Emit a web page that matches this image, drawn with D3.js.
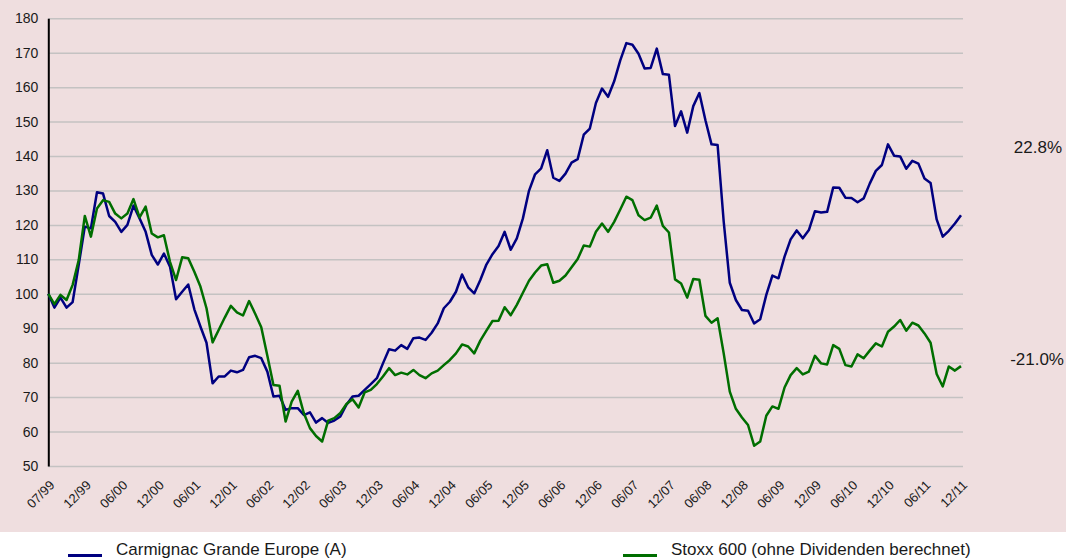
<!DOCTYPE html>
<html>
<head>
  <meta charset="utf-8">
  <script src="https://d3js.org/d3.v7.min.js"></script>
<style>
body { margin: 0; background: #fff; }
text { font-family: "Liberation Sans", Arial, sans-serif; fill: #1a1a1a; }
.grid line { stroke: #c4c2c2; stroke-width: 1.5px; }
</style>
</head>
<body>
  <div id="viz"></div>
<script>

// month labels, one every 6 points
var tickLabels = ["07/99","12/99","06/00","12/00","06/01","12/01","06/02","12/02","06/03",
  "12/03","06/04","12/04","06/05","12/05","06/06","12/06","06/07","12/07","06/08",
  "12/08","06/09","12/09","06/10","12/10","06/11","12/11"];

var yTicks = [50, 60, 70, 80, 90, 100, 110, 120, 130, 140, 150, 160, 170, 180];

// Carmignac Grande Europe (A), indexed to 100
var fund = [100, 96.0, 98.9, 96.0, 97.6, 108.4, 119.5, 119.0, 129.5, 129.1,
  122.6, 120.9, 118.0, 120.0, 125.6, 121.9, 118.0, 111.3, 108.5, 111.7,
  107.9, 98.4, 100.6, 102.7, 95.5, 90.5, 85.8, 74.0, 76.0, 76.0,
  77.7, 77.2, 77.9, 81.6, 82.0, 81.3, 77.4, 70.2, 70.4, 66.3,
  66.8, 66.8, 64.8, 65.6, 62.6, 63.9, 62.5, 63.2, 64.4, 67.8,
  70.2, 70.4, 72.1, 73.8, 75.5, 79.8, 83.9, 83.5, 85.1, 84.0,
  87.1, 87.3, 86.6, 88.7, 91.4, 95.8, 97.7, 100.6, 105.6, 101.9,
  100.1, 104.0, 108.5, 111.5, 113.9, 118.0, 112.8, 116.1, 121.9, 129.9,
  134.7, 136.4, 141.7, 133.7, 132.8, 134.9, 138.1, 139.1, 146.2, 148.0,
  155.4, 159.6, 157.2, 161.7, 167.8, 172.8, 172.3, 169.7, 165.4, 165.6,
  171.2, 163.8, 163.6, 148.7, 153.0, 146.8, 154.5, 158.3, 150.4, 143.4,
  143.2, 121.0, 103.2, 98.2, 95.3, 95.1, 91.4, 92.6, 99.7, 105.3,
  104.5, 110.8, 115.8, 118.4, 116.1, 118.5, 124.0, 123.6, 123.8, 130.9,
  130.8, 127.9, 127.8, 126.6, 127.7, 132.0, 135.7, 137.4, 143.4, 140.1,
  139.9, 136.3, 138.6, 137.8, 133.5, 132.2, 121.6, 116.6, 118.3, 120.4,
  122.8];

// Stoxx 600 (ohne Dividenden), indexed to 100
var stoxx = [100, 97.0, 99.7, 98.2, 102.6, 109.8, 122.6, 116.6, 124.8, 127.2,
  126.7, 123.3, 121.9, 123.3, 127.5, 122.2, 125.3, 117.5, 116.4, 117.0,
  109.3, 104.0, 110.6, 110.3, 106.4, 102.1, 95.8, 85.9, 89.5, 93.1,
  96.5, 94.6, 93.7, 97.9, 94.2, 90.3, 82.0, 73.5, 73.3, 62.9,
  68.7, 71.8, 65.3, 61.0, 58.7, 57.1, 63.2, 63.9, 65.4, 68.0,
  69.4, 67.0, 71.4, 72.1, 73.8, 76.0, 78.4, 76.4, 77.1, 76.6,
  77.9, 76.4, 75.5, 76.9, 77.7, 79.3, 80.8, 82.7, 85.3, 84.7,
  82.7, 86.4, 89.3, 92.1, 92.2, 96.1, 93.8, 96.8, 100.3, 103.8,
  106.2, 108.2, 108.6, 103.2, 103.8, 105.3, 107.7, 110.1, 114.0, 113.7,
  118.0, 120.4, 118.0, 120.9, 124.5, 128.2, 127.2, 122.8, 121.4, 122.1,
  125.6, 119.7, 117.8, 104.2, 103.0, 98.9, 104.3, 104.1, 93.6, 91.6,
  92.9, 82.7, 71.6, 66.6, 64.1, 61.9, 55.9, 57.1, 64.6, 67.3,
  66.6, 72.8, 76.4, 78.4, 76.6, 77.4, 82.0, 79.8, 79.5, 85.1,
  84.0, 79.3, 78.9, 82.4, 81.3, 83.5, 85.6, 84.7, 89.0, 90.5,
  92.4, 89.3, 91.6, 90.8, 88.5, 85.8, 76.7, 73.1, 78.9, 77.7,
  79.0];

var seriesNames = ["Carmignac Grande Europe (A)", "Stoxx 600 (ohne Dividenden berechnet)"];
var endLabels = ["22.8%", "-21.0%"];

var width = 1066, height = 559;
// plot box (named so they don't clash with window.top etc.)
var plotL = 48.3, plotR = 961, plotT = 18.3, plotB = 466;

var svg = d3.select("#viz")
    .append("svg")
    .attr("width", width)
    .attr("height", height);

// pink panel behind the plot
svg.append("rect")
    .attr("x", 0).attr("y", 0)
    .attr("width", width).attr("height", 532)
    .style("fill", "#efdedf");

var x = d3.scaleLinear().domain([0, fund.length - 1]).range([plotL, plotR]);
var y = d3.scaleLinear().domain([50, 180]).range([plotB, plotT]);

// horizontal grid
svg.append("g")
    .attr("class", "grid")
    .attr("transform", "translate(" + plotL + ",0)")
    .call(d3.axisRight(y).tickValues(yTicks).tickSize(963 - plotL).tickFormat(""))
    .call(function(g) { g.select(".domain").remove(); });

// y axis labels + black line
var yAxis = svg.append("g")
    .attr("transform", "translate(" + plotL + ",0)")
    .call(d3.axisLeft(y).tickValues(yTicks).tickSize(0).tickPadding(10));
yAxis.select(".domain").attr("stroke", "#000").attr("stroke-width", 2);
yAxis.selectAll("text").style("font-size", "14px").attr("font-family", null).attr("fill", null);

// x labels, rotated
var xTickIdx = d3.range(0, fund.length, 6);
svg.append("g").selectAll("text")
    .data(xTickIdx)
  .enter().append("text")
    .attr("transform", function(d) { return "translate(" + (x(d) + 7) + ",486) rotate(-45)"; })
    .attr("text-anchor", "end")
    .style("font-size", "13px")
    .text(function(d, i) { return tickLabels[i]; });

// the two lines
var line = d3.line()
    .x(function(d, i) { return x(i); })
    .y(function(d) { return y(d); });

var colors = ["#000080", "#006e00"];
[fund, stoxx].forEach(function(s, k) {
  svg.append("path")
      .datum(s)
      .attr("d", line)
      .style("fill", "none")
      .style("stroke", colors[k])
      .style("stroke-width", 2.5)
      .style("stroke-linejoin", "round");
});

// performance labels at the right
svg.append("text").attr("x", 1062).attr("y", 153).attr("text-anchor", "end")
    .style("font-size", "17px").text(endLabels[0]);
svg.append("text").attr("x", 1064).attr("y", 365).attr("text-anchor", "end")
    .style("font-size", "17px").text(endLabels[1]);

// legend
var legX = [68, 623];
seriesNames.forEach(function(n, k) {
  svg.append("line")
      .attr("x1", legX[k]).attr("x2", legX[k] + 34)
      .attr("y1", 555.5).attr("y2", 555.5)
      .style("stroke", colors[k]).style("stroke-width", 3);
  svg.append("text")
      .attr("x", legX[k] + 48).attr("y", 555)
      .style("font-size", "17px")
      .text(n);
});

</script>
</body>
</html>
